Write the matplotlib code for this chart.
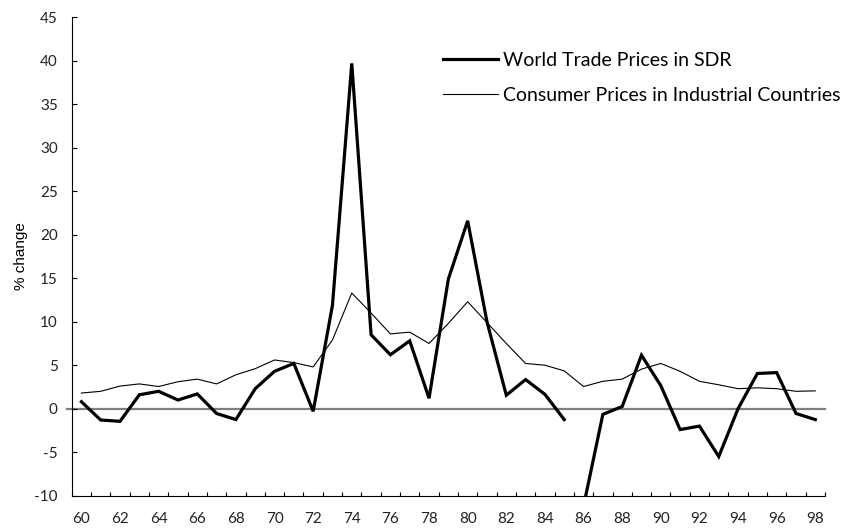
import matplotlib
matplotlib.use("Agg")
import matplotlib.pyplot as plt
import numpy as np

plt.rcParams["axes.unicode_minus"] = False

years = list(range(60, 99))
world_trade_sdr = [0.8, -1.3, -1.45, 1.6, 2.0, 1.0, 1.7, -0.55, -1.25, 2.3,
                   4.3, 5.2, -0.3, 11.9, 39.7, 8.5, 6.2, 7.8, 1.2, 14.9,
                   21.6, 10.0, 1.55, 3.35, 1.65, -1.25, -11.2, -0.65, 0.25, 6.15,
                   2.65, -2.4, -2.0, -5.5, 0.0, 4.05, 4.15, -0.55, -1.25]
consumer_prices = [1.8, 2.0, 2.6, 2.85, 2.55, 3.1, 3.4, 2.85, 3.9, 4.6,
                   5.6, 5.3, 4.8, 7.9, 13.3, 11.0, 8.6, 8.8, 7.5, 9.8,
                   12.3, 9.9, 7.5, 5.2, 5.0, 4.35, 2.55, 3.15, 3.4, 4.55,
                   5.2, 4.3, 3.15, 2.75, 2.3, 2.4, 2.3, 2.0, 2.05]
series_names = ["World Trade Prices in SDR", "Consumer Prices in Industrial Countries"]
break_after = 85  # the thick series is drawn in two pieces (85 -> 86 not joined)
xtick_years = list(range(60, 99, 2))
ytick_vals = list(range(-10, 50, 5))

fig = plt.figure(figsize=(8.54, 5.31), dpi=100)
ax = fig.add_axes([0.084, 0.0665, 0.882, 0.901])

tick_font = "Lato"
ax.axhline(0, color="#7f7f7f", lw=1.6, xmin=-0.006, clip_on=False, zorder=1)

yrs = np.array(years)
wts = np.array(world_trade_sdr)
m1 = yrs <= break_after
m2 = yrs > break_after
ax.plot(yrs[m1], wts[m1], color="black", lw=2.3, solid_joinstyle="miter", zorder=3,
        label=series_names[0])
ax.plot(yrs[m2], wts[m2], color="black", lw=2.3, solid_joinstyle="miter", zorder=3)
ax.plot(yrs, consumer_prices, color="black", lw=0.8, zorder=2, label=series_names[1])

ax.set_xlim(59.5, 98.5)
ax.set_ylim(-10, 45)

ax.set_xticks(xtick_years)
ax.set_xticklabels([str(y) for y in xtick_years])
ax.set_xticks(np.arange(59.5, 99.0, 1.0), minor=True)
ax.tick_params(axis="x", which="major", length=0, pad=12, labelsize=11)
ax.tick_params(axis="x", which="minor", direction="in", length=3.2, width=0.8)
ax.set_yticks(ytick_vals)
ax.tick_params(axis="y", which="major", direction="in", length=3.6, width=0.8,
               pad=10, labelsize=11)
for lab in ax.get_xticklabels() + ax.get_yticklabels():
    lab.set_fontfamily(tick_font)
    lab.set_color("#222222")

ax.spines["top"].set_visible(False)
ax.spines["right"].set_visible(False)
ax.spines["left"].set_linewidth(0.8)
ax.spines["bottom"].set_linewidth(0.8)

ax.set_ylabel("% change", family="Liberation Sans", fontsize=11, labelpad=4.5)

leg = ax.legend(loc="upper left", bbox_to_anchor=(0.493, 0.927), frameon=False,
                prop={"family": tick_font, "size": 14}, handlelength=2.85,
                handletextpad=0.25, labelspacing=0.9, borderpad=0, borderaxespad=0)

fig.savefig("out.png", dpi=100)
